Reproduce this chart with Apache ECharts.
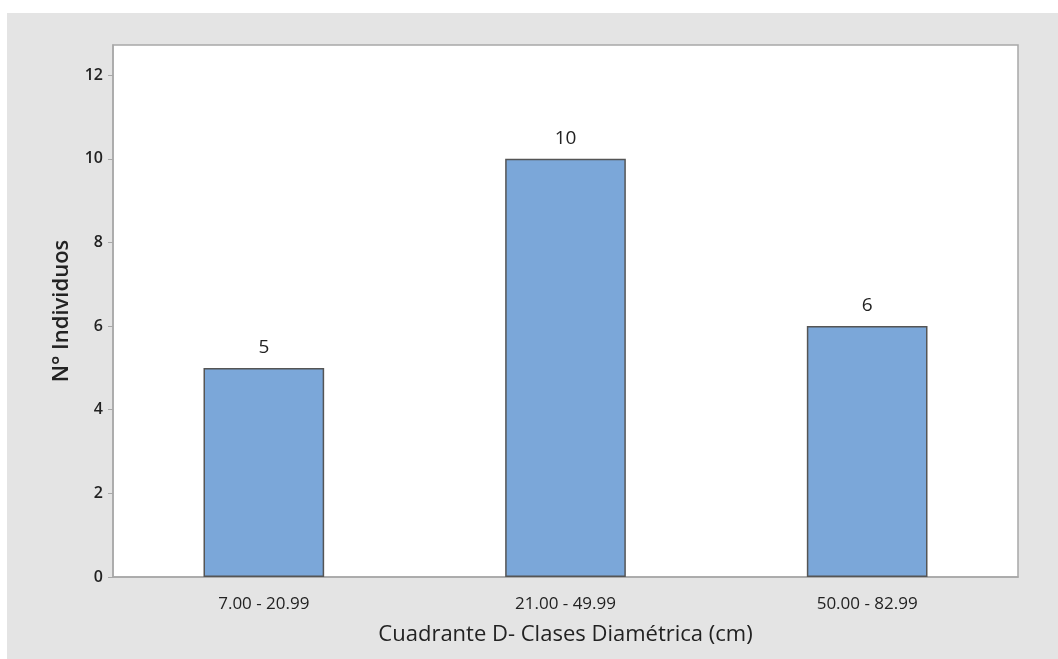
<!DOCTYPE html>
<html><head><meta charset="utf-8">
<script src="https://cdn.jsdelivr.net/npm/echarts@6/dist/echarts.min.js"></script>
<style>html,body{margin:0;padding:0;background:#fff}#c{width:1058px;height:659px}</style>
</head><body><div id="c"></div>
<script>
const categories = ['7.00 - 20.99', '21.00 - 49.99', '50.00 - 82.99'];
const counts = [5, 10, 6];
const yTicks = [0, 2, 4, 6, 8, 10, 12];
const xTitle = 'Cuadrante D- Clases Diamétrica (cm)';
const yTitle = 'N° Individuos';

const chart = echarts.init(document.getElementById('c'), null, {renderer: 'canvas'});
const font = '"Open Sans", "Noto Sans", sans-serif';
chart.setOption({
  backgroundColor: '#ffffff',
  animation: false,
  graphic: [{type: 'rect', z: -10, silent: true, shape: {x: 7, y: 13, width: 1100, height: 700}, style: {fill: '#e4e4e4'}}],
  grid: {left: 113, right: 40, top: 45, bottom: 82, show: true, backgroundColor: '#ffffff', borderColor: '#a8a8a8', borderWidth: 1.5},
  xAxis: {
    type: 'category', data: categories,
    name: xTitle, nameLocation: 'middle', nameGap: 47,
    nameTextStyle: {fontFamily: font, fontSize: 22, color: '#222'},
    axisLine: {lineStyle: {color: '#a8a8a8', width: 1.5}},
    axisTick: {alignWithLabel: true, length: 5, lineStyle: {color: '#a8a8a8'}},
    axisLabel: {fontFamily: font, fontSize: 17, color: '#222', margin: 19}
  },
  yAxis: {
    type: 'value', min: 0, max: 12.72,
    name: yTitle, nameLocation: 'middle', nameGap: 40,
    nameTextStyle: {fontFamily: font, fontSize: 22, color: '#222', fontWeight: 600},
    splitLine: {show: false},
    axisLine: {show: true, lineStyle: {color: '#a8a8a8', width: 1.5}},
    axisTick: {show: true, length: 5, lineStyle: {color: '#a8a8a8'}, customValues: yTicks},
    axisLabel: {fontFamily: font, fontSize: 16, color: '#222', fontWeight: 600, margin: 10, customValues: yTicks}
  },
  series: [{
    type: 'bar', data: counts, barWidth: '40%',
    itemStyle: {color: '#7ba7d9', borderColor: '#555555', borderWidth: 1.5},
    label: {show: true, position: 'top', distance: 11, fontFamily: font, fontSize: 19, color: '#222'}
  }]
});
</script></body></html>
